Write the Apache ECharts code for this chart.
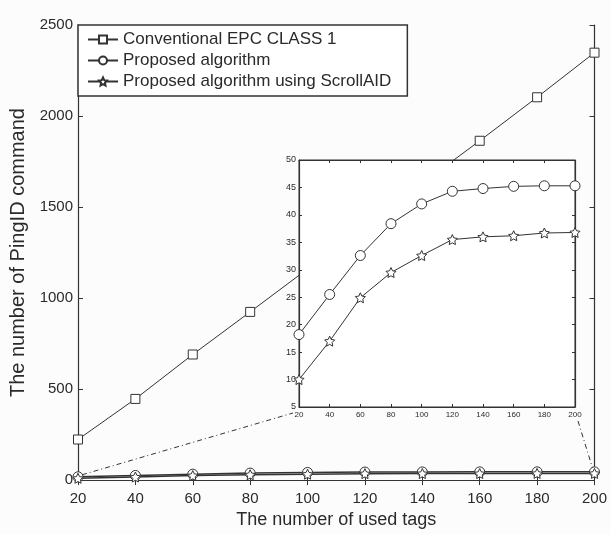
<!DOCTYPE html>
<html>
<head>
<meta charset="utf-8">
<script src="https://cdn.jsdelivr.net/npm/echarts@6/dist/echarts.min.js"></script>
<style>html,body{margin:0;padding:0;background:#fcfcfc;}#c{width:610px;height:534px;}</style>
</head>
<body>
<div id="c"></div>
<script>
var tags = [20, 40, 60, 80, 100, 120, 140, 160, 180, 200];
var conventional = [223, 446, 690, 924, 1160, 1395, 1630, 1864, 2103, 2348];
var proposed = [18.2, 25.5, 32.6, 38.4, 42, 44.3, 44.8, 45.2, 45.3, 45.3];
var scrollAID = [10, 17, 24.9, 29.5, 32.6, 35.5, 36, 36.2, 36.7, 36.8];
var seriesNames = ['Conventional EPC CLASS 1', 'Proposed algorithm', 'Proposed algorithm using ScrollAID'];
var xTitle = 'The number of used tags';
var yTitle = 'The number of PingID command';

var FONT = '"Liberation Sans", Arial, sans-serif';
var INK = '#2a2a2a';
var LINE = '#333';
var STAR = 'path://M0,-10 L2.9,-4 9.5,-3.1 4.7,1.5 5.9,8.1 0,5 -5.9,8.1 -4.7,1.5 -9.5,-3.1 -2.9,-4 Z';

function pairs(ys) { return tags.map(function (t, i) { return [t, ys[i]]; }); }
function plain(v) { return String(v); }

function mkX(grid, pos, labels, fs, tickLen, z) {
  return {
    type: 'value', gridIndex: grid, position: pos, min: 20, max: 200, interval: 20, z: z,
    axisLine: { show: true, lineStyle: { color: LINE, width: 1.2 } },
    axisTick: { show: true, inside: true, length: tickLen, lineStyle: { color: LINE } },
    axisLabel: { show: labels, color: INK, fontSize: fs, fontFamily: FONT, margin: grid === 0 ? 11 : 4, formatter: plain },
    splitLine: { show: false }
  };
}
function mkY(grid, pos, labels, min, max, step, fs, tickLen, z) {
  return {
    type: 'value', gridIndex: grid, position: pos, min: min, max: max, interval: step, z: z,
    axisLine: { show: true, lineStyle: { color: LINE, width: 1.2 } },
    axisTick: { show: true, inside: true, length: tickLen, lineStyle: { color: LINE } },
    axisLabel: { show: labels, color: INK, fontSize: fs, fontFamily: FONT, margin: grid === 0 ? 5 : 3, formatter: plain },
    splitLine: { show: false }
  };
}

var xMain = mkX(0, 'bottom', true, 15, 5, 1);
xMain.name = xTitle; xMain.nameLocation = 'middle'; xMain.nameGap = 28;
xMain.nameTextStyle = { color: INK, fontSize: 18, fontFamily: FONT };
var yMain = mkY(0, 'left', true, 0, 2500, 500, 15, 5, 1);
yMain.name = yTitle; yMain.nameLocation = 'middle'; yMain.nameGap = 50;
yMain.nameTextStyle = { color: INK, fontSize: 20, fontFamily: FONT };

var sym = { itemStyle: { color: '#fff', borderColor: LINE, borderWidth: 1 } };

var option = {
  animation: false,
  backgroundColor: '#fcfcfc',
  grid: [
    { left: 78, top: 25, width: 517, height: 460, show: false },
    { left: 299, top: 160, width: 276, height: 247, show: true, z: 3, backgroundColor: '#fff', borderColor: LINE, borderWidth: 1 }
  ],
  legend: {
    data: seriesNames, orient: 'vertical', left: 78, top: 25,
    padding: [6, 16, 6, 9], itemGap: 4, itemWidth: 30, itemHeight: 10,
    borderColor: '#333', borderWidth: 1.5, backgroundColor: '#fff',
    textStyle: { color: INK, fontSize: 17, fontFamily: FONT }, z: 10
  },
  xAxis: [
    xMain, mkX(0, 'top', false, 15, 5, 1),
    mkX(1, 'bottom', true, 8, 3, 6), mkX(1, 'top', false, 8, 3, 6)
  ],
  yAxis: [
    yMain, mkY(0, 'right', false, 0, 2500, 500, 15, 5, 1),
    mkY(1, 'left', true, 5, 50, 5, 9, 3, 6), mkY(1, 'right', false, 5, 50, 5, 9, 3, 6)
  ],
  series: [
    { name: seriesNames[0], type: 'line', xAxisIndex: 0, yAxisIndex: 0, data: pairs(conventional),
      symbol: 'rect', symbolSize: 9, lineStyle: { color: LINE, width: 1 }, itemStyle: sym.itemStyle, z: 2 },
    { name: seriesNames[1], type: 'line', xAxisIndex: 0, yAxisIndex: 0, data: pairs(proposed),
      symbol: 'circle', symbolSize: 10, lineStyle: { color: LINE, width: 1.5 }, itemStyle: sym.itemStyle, z: 2 },
    { name: seriesNames[2], type: 'line', xAxisIndex: 0, yAxisIndex: 0, data: pairs(scrollAID),
      symbol: STAR, symbolSize: 10, lineStyle: { color: LINE, width: 1.5 }, itemStyle: sym.itemStyle, z: 2 },
    { name: seriesNames[1], type: 'line', xAxisIndex: 2, yAxisIndex: 2, data: pairs(proposed),
      symbol: 'circle', symbolSize: 10, lineStyle: { color: LINE, width: 1 }, itemStyle: sym.itemStyle, z: 7 },
    { name: seriesNames[2], type: 'line', xAxisIndex: 2, yAxisIndex: 2, data: pairs(scrollAID),
      symbol: STAR, symbolSize: 10, lineStyle: { color: LINE, width: 1 }, itemStyle: sym.itemStyle, z: 7 }
  ]
};

var chart = echarts.init(document.getElementById('c'), null, { renderer: 'canvas' });
chart.setOption(option);

// connector (zoom) lines from the main chart's low curves to the inset
var a0 = chart.convertToPixel({ gridIndex: 0 }, [tags[0], proposed[0]]);
var a1 = chart.convertToPixel({ gridIndex: 1 }, [tags[0], 5]);
var b0 = chart.convertToPixel({ gridIndex: 0 }, [tags[tags.length - 1], proposed[proposed.length - 1]]);
var b1 = chart.convertToPixel({ gridIndex: 1 }, [tags[tags.length - 1], 5]);
var dash = { stroke: LINE, lineWidth: 1, lineDash: [5, 3, 1, 3], fill: null };
chart.setOption({
  graphic: [
    { type: 'line', z: 4, shape: { x1: a0[0] + 4, y1: a0[1] - 2, x2: a1[0] - 6, y2: a1[1] + 6 }, style: dash },
    { type: 'line', z: 4, shape: { x1: b1[0] + 3, y1: b1[1] + 14, x2: b0[0] - 2, y2: b0[1] - 4 }, style: dash }
  ]
});
</script>
</body>
</html>
